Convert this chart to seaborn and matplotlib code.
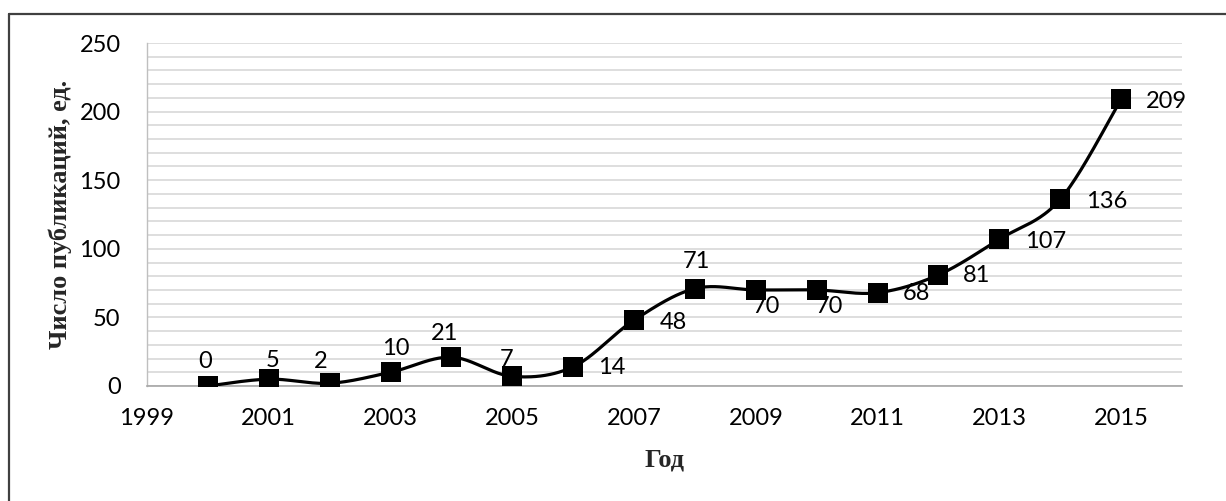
import numpy as np
import matplotlib.pyplot as plt
import seaborn as sns
from matplotlib.lines import Line2D
from matplotlib.ticker import MultipleLocator

years = [2000, 2001, 2002, 2003, 2004, 2005, 2006, 2007,
         2008, 2009, 2010, 2011, 2012, 2013, 2014, 2015]
counts = [0, 5, 2, 10, 21, 7, 14, 48, 71, 70, 70, 68, 81, 107, 136, 209]
x_ticks = [1999, 2001, 2003, 2005, 2007, 2009, 2011, 2013, 2015]
y_ticks = [0, 50, 100, 150, 200, 250]
x_title = 'Год'
y_title = 'Число публикаций, ед.'

# label offsets from the marker centre, in pixels
label_dx = [-3, 4, -9, 5, -7, -6, 39, 39, 1, 11, 13, 39, 38, 46, 46, 45]
label_dy = [25, 19, 22, 24, 24, 17, -1, -2, 27, -17, -17, -1, -1, -2, -2, -2]


def smooth(x, y, n=40):
    # excel-like smoothed line (bezier through the points)
    x = np.asarray(x, float)
    y = np.asarray(y, float)
    px = np.r_[x[0], x, x[-1]]
    py = np.r_[y[0], y, y[-1]]
    t = np.linspace(0, 1, n)[:, None]
    out = []
    for k in range(len(x) - 1):
        p0 = np.array([px[k], py[k]])
        p1 = np.array([px[k + 1], py[k + 1]])
        p2 = np.array([px[k + 2], py[k + 2]])
        p3 = np.array([px[k + 3], py[k + 3]])
        b1 = p1 + (p2 - p0) / 6
        b2 = p2 - (p3 - p1) / 6
        seg = ((1 - t) ** 3) * p1 + 3 * ((1 - t) ** 2) * t * b1 \
            + 3 * (1 - t) * t ** 2 * b2 + t ** 3 * p2
        out.append(seg if k == 0 else seg[1:])
    out = np.vstack(out)
    return out[:, 0], out[:, 1]


sns.set_style('white')
plt.rcParams['font.family'] = ['Lato', 'DejaVu Sans']

fig = plt.figure(figsize=(12.26, 5.01), dpi=100)
ax = fig.add_axes([147 / 1226, 1 - 386 / 501, 1035 / 1226, 343 / 501])

sx, sy = smooth(years, counts)
sns.lineplot(x=sx, y=sy, sort=False, estimator=None, color='black',
             linewidth=2.3, ax=ax, zorder=3)
sns.scatterplot(x=years, y=counts, marker='s', s=210, color='black',
                edgecolor='black', linewidth=0, ax=ax, zorder=4)

for yr, v, dx, dy in zip(years, counts, label_dx, label_dy):
    ax.annotate(str(v), (yr, v), xytext=(dx, dy), textcoords='offset pixels',
                ha='center', va='center', fontsize=17, color='black', zorder=5)

ax.set_xlim(1999, 2016)
ax.set_ylim(0, 250)
ax.set_xticks(x_ticks)
ax.set_yticks(y_ticks)
ax.yaxis.set_minor_locator(MultipleLocator(10))
ax.grid(True, which='both', axis='y', color='#d4d4d4', linewidth=1.1)
ax.grid(False, axis='x')
ax.set_axisbelow(True)
ax.tick_params(axis='both', which='both', length=0, labelsize=17, colors='black')
ax.tick_params(axis='y', pad=19)
ax.tick_params(axis='x', pad=16)

for s in ['top', 'right']:
    ax.spines[s].set_visible(False)
ax.spines['left'].set_color('#bfbfbf')
ax.spines['bottom'].set_color('#a6a6a6')
ax.spines['left'].set_linewidth(1.0)
ax.spines['bottom'].set_linewidth(1.2)

ax.set_xlabel(x_title, family='Liberation Serif', fontweight='bold',
              fontsize=19, va='center')
ax.set_ylabel(y_title, family='Liberation Serif', fontweight='bold',
              fontsize=19, va='center')
ax.xaxis.set_label_coords(0.5, (386 - 460) / 343)
ax.yaxis.set_label_coords((60 - 147) / 1035, 0.5)

# outer frame (only top and left visible)
fig.add_artist(Line2D([9 / 1226, 1], [1 - 14 / 501, 1 - 14 / 501],
                      color='#404040', linewidth=1.6))
fig.add_artist(Line2D([9 / 1226, 9 / 1226], [0, 1 - 14 / 501],
                      color='#404040', linewidth=1.6))

plt.savefig('out.png', dpi=100)
